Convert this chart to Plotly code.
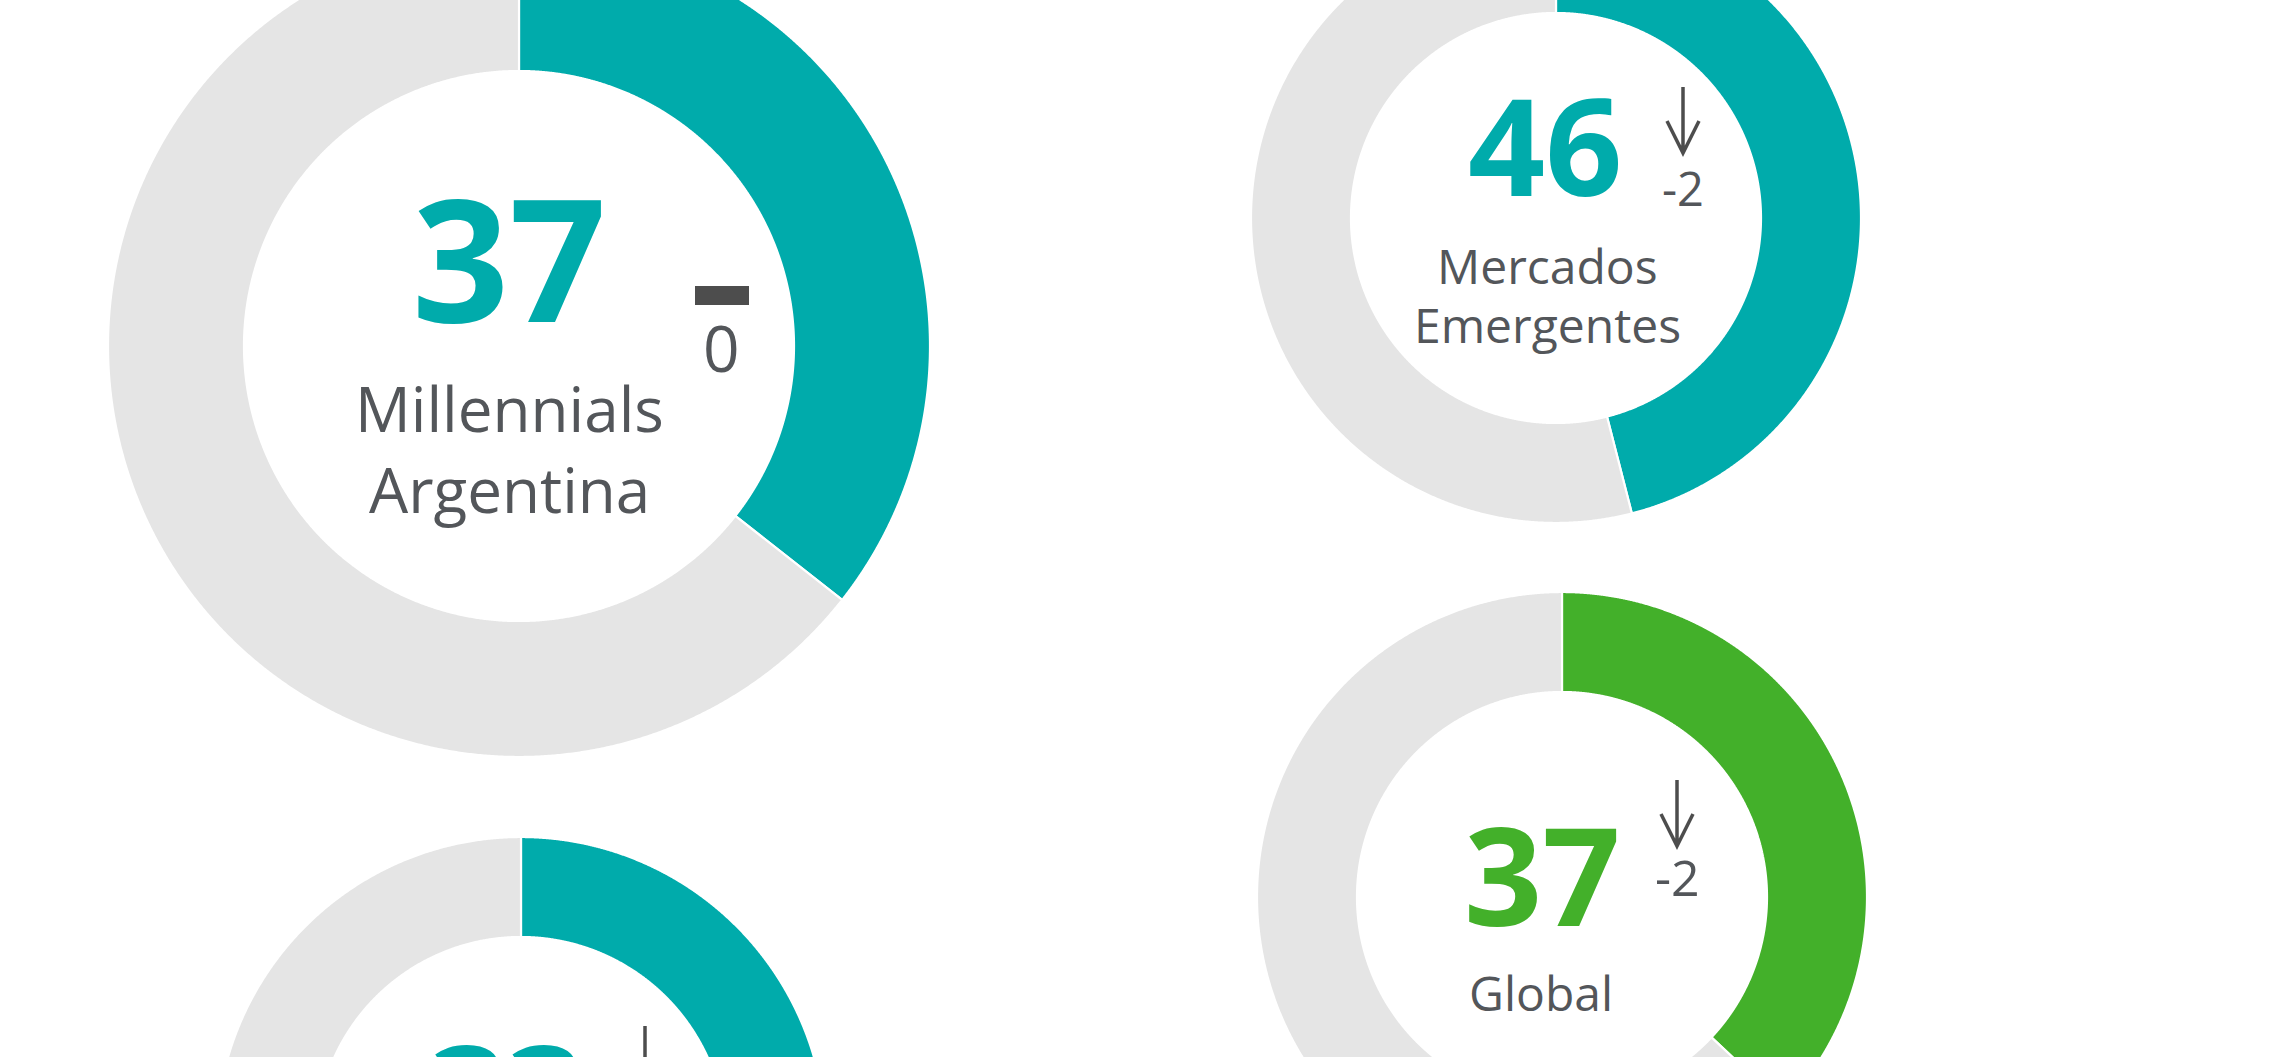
import numpy as np
import plotly.graph_objects as go

# ---------------- data ----------------
labels = [["Millennials", "Argentina"], ["Mercados", "Emergentes"], ["Global"], []]
values = [37, 46, 37, 33]          # index shown in the centre
ring_shares = [35.6, 46, 37, 33]   # share of the ring drawn coloured
deltas = [0, -2, -2, -2]
total = 100

# ---------------- layout / style (not data) ----------------
W, H = 2291, 1057
TEAL = "#00ABAB"
GREEN = "#43B02A"
GRAY = "#E5E5E5"
TXT = "#53565A"
DARK = "#4D4D4D"

donuts = [
    dict(cx=519, cy=346, ro=411, ri=275, color=TEAL,
         num=dict(x=509, y=261, size=170),
         lab=dict(x=509, ys=[410, 491], size=62),
         dl=dict(x=721, y=349, size=64, ind_y=295)),
    dict(cx=1556, cy=218, ro=305, ri=205, color=TEAL,
         num=dict(x=1545, y=148, size=135),
         lab=dict(x=1547, ys=[267, 326], size=48),
         dl=dict(x=1683, y=189, size=47, ind_y=87)),
    dict(cx=1562, cy=897, ro=305, ri=205, color=GREEN,
         num=dict(x=1542, y=877, size=137),
         lab=dict(x=1541, ys=[994], size=48),
         dl=dict(x=1677, y=879, size=50, ind_y=780)),
    dict(cx=521, cy=1142, ro=305, ri=205, color=TEAL,
         num=dict(x=507, y=1095, size=135),
         lab=dict(x=507, ys=[], size=48),
         dl=dict(x=645, y=1140, size=47, ind_y=1026)),
]


def ring_segment(cx, cy, ro, ri, a0, a1, n=900):
    t = np.linspace(a0, a1, n)
    xo = cx + ro * np.sin(t)
    yo = cy - ro * np.cos(t)
    xi = cx + ri * np.sin(t[::-1])
    yi = cy - ri * np.cos(t[::-1])
    return np.r_[xo, xi, xo[:1]], np.r_[yo, yi, yo[:1]]


def px(x):
    return x / W


def py(y):
    return 1 - y / H


fig = go.Figure()
annotations = []
shapes = []

for d, v, share, dv, lab in zip(donuts, values, ring_shares, deltas, labels):
    a_split = 2 * np.pi * share / total
    # value segment then remainder, clockwise from 12 o'clock
    for a0, a1, col in [(0, a_split, d["color"]), (a_split, 2 * np.pi, GRAY)]:
        xs, ys = ring_segment(d["cx"], d["cy"], d["ro"], d["ri"], a0, a1)
        fig.add_trace(go.Scatter(x=xs, y=ys, mode="lines", fill="toself",
                                 fillcolor=col,
                                 line=dict(color="white", width=2.2, simplify=False),
                                 hoverinfo="skip", showlegend=False))
    # big number
    n = d["num"]
    annotations.append(dict(x=px(n["x"]), y=py(n["y"] - 0.031 * n["size"]),
                            xref="paper", yref="paper",
                            text=f"<b>{v}</b>", showarrow=False, xanchor="center", yanchor="middle",
                            height=round(0.9 * n["size"]), valign="middle",
                            font=dict(family="Open Sans", size=n["size"], color=d["color"])))
    # label lines
    L = d["lab"]
    for line, yy in zip(lab, L["ys"]):
        annotations.append(dict(x=px(L["x"]), y=py(yy - 0.031 * L["size"]),
                                xref="paper", yref="paper",
                                text=line, showarrow=False, xanchor="center", yanchor="middle",
                                font=dict(family="Open Sans", size=L["size"], color=TXT)))
    # delta value (only where it falls inside the visible page) + indicator
    dl = d["dl"]
    if dl["y"] - 0.4 * dl["size"] < H:
        annotations.append(dict(x=px(dl["x"]), y=py(dl["y"] - 0.031 * dl["size"]),
                                xref="paper", yref="paper",
                                text=f"{dv}", showarrow=False, xanchor="center", yanchor="middle",
                                font=dict(family="Open Sans", size=dl["size"], color=TXT)))
    x0 = dl["x"]
    if dv == 0:
        shapes.append(dict(type="rect", xref="x", yref="y", x0=x0 - 26, x1=x0 + 28,
                           y0=dl["ind_y"] - 9, y1=dl["ind_y"] + 10,
                           fillcolor=DARK, line=dict(width=0)))
    else:
        top = dl["ind_y"]
        tip = top + 66
        sgn = 1 if dv < 0 else -1
        if sgn < 0:
            top, tip = tip, top
        path = (f"M {x0},{top} L {x0},{tip} "
                f"M {x0 - 16},{tip - sgn * 32} L {x0},{tip} L {x0 + 16},{tip - sgn * 32}")
        shapes.append(dict(type="path", xref="x", yref="y", path=path,
                           line=dict(color=DARK, width=3.5)))

fig.update_layout(
    width=W, height=H,
    margin=dict(l=0, r=0, t=0, b=0),
    paper_bgcolor="white", plot_bgcolor="white",
    xaxis=dict(range=[0, W], visible=False, fixedrange=True),
    yaxis=dict(range=[H, 0], visible=False, fixedrange=True),
    annotations=annotations,
    shapes=shapes,
    showlegend=False,
)

fig.write_html(
    "out.html",
    config={"displayModeBar": False},
    post_script="document.body.style.margin='0';document.body.style.overflow='hidden';",
)
